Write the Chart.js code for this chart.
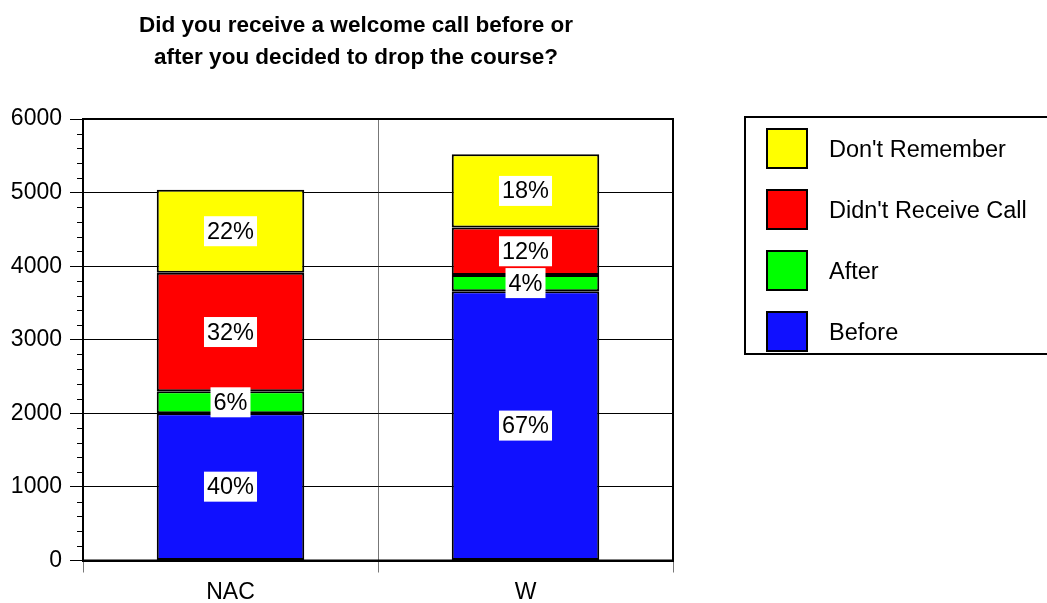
<!DOCTYPE html>
<html>
<head>
<meta charset="utf-8">
<script src="https://cdn.jsdelivr.net/npm/chart.js@4"></script>
<style>
  body { margin: 0; background: #fff; }
</style>
</head>
<body>
<canvas id="drop-chart" width="1047" height="603"></canvas>
<script>
// data
const categories = ['NAC', 'W'];
const seriesNames = ['Before', 'After', "Didn't Receive Call", "Don't Remember"];
const before = [2000, 3660];
const after = [300, 220];
const didntReceive = [1610, 645];
const dontRemember = [1130, 995];
const pctBefore = ['40%', '67%'];
const pctAfter = ['6%', '4%'];
const pctDidnt = ['32%', '12%'];
const pctDont = ['22%', '18%'];
const yTicks = [0, 1000, 2000, 3000, 4000, 5000, 6000];
const titleLines = ['Did you receive a welcome call before or', 'after you decided to drop the course?'];

const seriesValues = [before, after, didntReceive, dontRemember];
const seriesPct = [pctBefore, pctAfter, pctDidnt, pctDont];
const seriesColors = ['#1010ff', '#00ff00', '#ff0000', '#ffff00'];

Chart.defaults.font.family = '"Liberation Sans", Arial, sans-serif';
Chart.defaults.color = '#000';

// title drawn left of centre, like the original
const titlePlugin = {
    id: 'titleText',
    afterDraw(chart) {
        const ctx = chart.ctx;
        ctx.save();
        ctx.font = 'bold 22.5px "Liberation Sans", Arial, sans-serif';
        ctx.fillStyle = '#000';
        ctx.textAlign = 'center';
        ctx.textBaseline = 'alphabetic';
        ctx.fillText(titleLines[0], 356, 32);
        ctx.fillText(titleLines[1], 356, 64);
        ctx.restore();
    }
};

// frame round the plot + minor ticks on the value axis
const framePlugin = {
    id: 'frame',
    afterDraw(chart) {
        const ctx = chart.ctx;
        const a = chart.chartArea;
        const y = chart.scales.y;
        ctx.save();
        ctx.strokeStyle = '#000';
        ctx.lineWidth = 1;
        for (let v = y.min; v <= y.max; v += 200) {
            if (v % 1000 === 0) continue;
            const py = Math.round(y.getPixelForValue(v)) + 0.5;
            ctx.beginPath();
            ctx.moveTo(a.left - 6, py);
            ctx.lineTo(a.left, py);
            ctx.stroke();
        }
        ctx.lineWidth = 2;
        ctx.strokeRect(a.left, a.top, a.right - a.left, a.bottom - a.top);
        ctx.restore();
    }
};

// percentage labels on white boxes
const pctPlugin = {
    id: 'pctLabels',
    afterDatasetsDraw(chart) {
        const ctx = chart.ctx;
        ctx.save();
        ctx.font = '23.5px "Liberation Sans", Arial, sans-serif';
        ctx.textAlign = 'center';
        ctx.textBaseline = 'middle';
        chart.data.datasets.forEach((ds, i) => {
            chart.getDatasetMeta(i).data.forEach((bar, j) => {
                const p = bar.getCenterPoint();
                const txt = seriesPct[i][j];
                const w = ctx.measureText(txt).width + 6;
                ctx.fillStyle = '#fff';
                ctx.fillRect(p.x - w / 2, p.y - 15, w, 30);
                ctx.fillStyle = '#000';
                ctx.fillText(txt, p.x, p.y + 1);
            });
        });
        ctx.restore();
    }
};

// boxed legend on the right, top series first
const legendPlugin = {
    id: 'boxLegend',
    afterDraw(chart) {
        const ctx = chart.ctx;
        ctx.save();
        ctx.strokeStyle = '#000';
        ctx.lineWidth = 2;
        ctx.strokeRect(745, 117, 320, 237);
        ctx.font = '23.5px "Liberation Sans", Arial, sans-serif';
        ctx.textBaseline = 'middle';
        ctx.textAlign = 'left';
        const ds = chart.data.datasets.slice().reverse();
        ds.forEach((d, k) => {
            const top = 128 + k * 61;
            ctx.fillStyle = d.backgroundColor;
            ctx.fillRect(766, top, 42, 41);
            ctx.lineWidth = 2;
            ctx.strokeRect(767, top + 1, 40, 39);
            ctx.fillStyle = '#000';
            ctx.fillText(d.label, 829, top + 23);
        });
        ctx.restore();
    }
};

const dropChart = document.getElementById('drop-chart');
new Chart(dropChart, {
    type: 'bar',
    data: {
        labels: categories,
        datasets: seriesValues.map((vals, i) => ({
            label: seriesNames[i],
            data: vals,
            backgroundColor: seriesColors[i],
            borderColor: '#000',
            borderWidth: 2,
            borderSkipped: false,
            categoryPercentage: 0.5,
            barPercentage: 1
        }))
    },
    options: {
        responsive: false,
        animation: false,
        devicePixelRatio: 1,
        layout: {
            padding: { top: 119, right: 374, bottom: 0, left: 0 }
        },
        plugins: {
            legend: { display: false },
            title: { display: false },
            tooltip: { enabled: false }
        },
        scales: {
            x: {
                stacked: true,
                grid: { offset: true, color: '#777', tickLength: 12, tickColor: '#777' },
                border: { color: '#000', width: 2 },
                ticks: { color: '#000', font: { size: 23 }, padding: 6 },
                afterFit(s) { s.height = 42.5; }
            },
            y: {
                stacked: true,
                min: 0,
                max: 6000,
                afterBuildTicks(s) { s.ticks = yTicks.map(v => ({ value: v })); },
                ticks: { color: '#000', font: { size: 23 }, padding: 8, callback: v => String(v) },
                grid: { color: '#000', tickLength: 13, tickColor: '#000' },
                border: { color: '#000', width: 2 },
                afterFit(s) { s.width = 83; }
            }
        }
    },
    plugins: [titlePlugin, framePlugin, pctPlugin, legendPlugin]
});
</script>
</body>
</html>
